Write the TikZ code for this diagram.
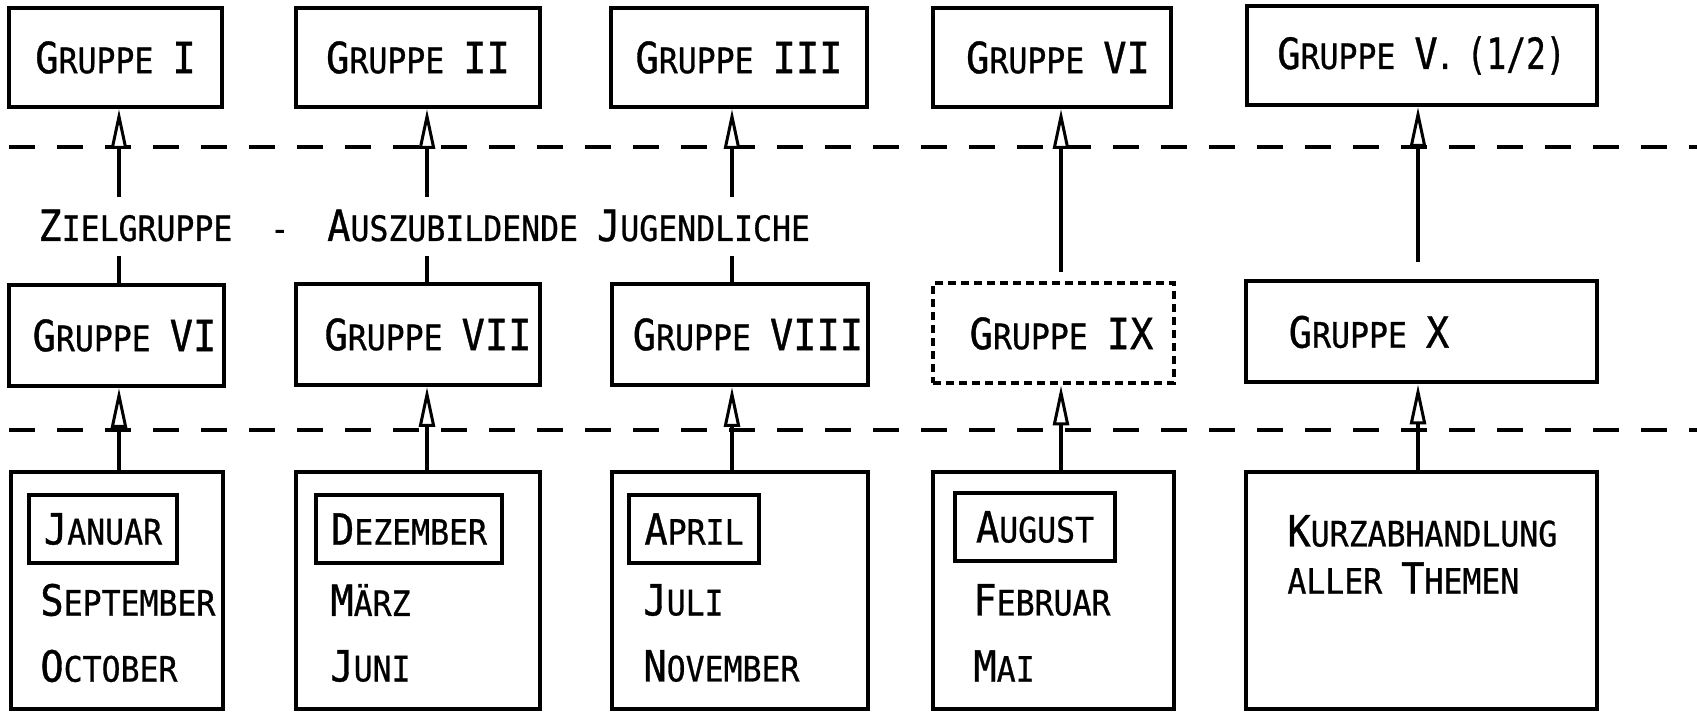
\documentclass[tikz,border=0pt]{standalone}
\usepackage{fontspec}
\newfontfamily\tw{DejaVu Sans Mono}[FakeStretch=0.9,FakeBold=0.8]
\usetikzlibrary{arrows.meta}
\newcommand\bg[1]{{\fontsize{21.5}{21.5}\selectfont #1}}
\newcommand\sm[1]{{\fontsize{17.5}{17.5}\selectfont #1}}
\begin{document}
\begin{tikzpicture}[x=0.5pt,y=-0.5pt,
  box/.style 2 args={draw, line width=2pt, inner sep=0pt,
    minimum width=#1*0.5pt, minimum height=#2*0.5pt,
    font=\tw\fontsize{17.5}{20}\selectfont},
  dotbox/.style={dash pattern=on 4pt off 2.5pt},
  txt/.style={inner sep=0pt, anchor=west, font=\tw\fontsize{17.5}{20}\selectfont},
  dashline/.style={line width=2pt, dash pattern=on 13pt off 11pt},
  conn/.style={line width=2pt},
  arr/.style={line width=2pt,
    -{Triangle[length=20pt,width=8pt,fill=white,line width=1.5pt]}}]
\useasboundingbox (0,0) rectangle (1697,715);

% dashed separators
\coordinate (d1l) at (9,147);  \coordinate (d1r) at (1697,147);
\coordinate (d2l) at (9,430);  \coordinate (d2r) at (1697,430);
\draw[dashline] (d1l) -- (d1r);
\draw[dashline] (d2l) -- (d2r);

% top row
\node[box={213}{99}]  (t1) at (115.5,57.5) {\bg{G}\sm{RUPPE} \bg{I}};
\node[box={244}{99}]  (t2) at (418,57.5)   {\bg{G}\sm{RUPPE} \bg{II}};
\node[box={256}{99}]  (t3) at (739,57.5)   {\bg{G}\sm{RUPPE} \bg{III}};
\node[box={238}{99}]  (t4) at (1052,57.5)  {\hspace{6pt}\bg{G}\sm{RUPPE} \bg{VI}};
\node[box={350}{99}]  (t5) at (1421.5,55.5)
  {\bg{G}\sm{RUPPE} \bg{V}\kern-1pt\sm{.}\kern6pt\scalebox{0.85}[1]{\bg{(1/2)}}};

% label
\node[txt, anchor=base west] (lab) at (38,241)
  {\bg{Z}\sm{IELGRUPPE}\ \ \sm{-}\ \ \bg{A}\sm{USZUBILDENDE} \bg{J}\sm{UGENDLICHE}};

% middle row
\node[box={215}{101}] (m1) at (116.5,335.5) {\hspace{8pt}\bg{G}\sm{RUPPE} \bg{VI}};
\node[box={244}{101}] (m2) at (418,334.5)   {\hspace{10pt}\bg{G}\sm{RUPPE} \bg{VII}};
\node[box={256}{101}] (m3) at (740,334.5)   {\hspace{8pt}\bg{G}\sm{RUPPE} \bg{VIII}};
\node[box={241}{100}, dotbox] (m4) at (1053.5,333.5) {\hspace{8pt}\bg{G}\sm{RUPPE} \bg{IX}};
\node[box={351}{101}] (m5) at (1421,332) {\bg{G}\sm{RUPPE} \bg{X}\hspace*{52pt}};

% bottom row
\node[box={212}{237}] (b1) at (117,590.5) {};
\node[box={244}{237}] (b2) at (418,590.5) {};
\node[box={256}{237}] (b3) at (740,590.5) {};
\node[box={241}{237}] (b4) at (1053.5,590.5) {};
\node[box={351}{237}] (b5) at (1421,590.5) {};

\node[box={148}{68}] (j1) at (103,529)  {\bg{J}\sm{ANUAR}};
\node[box={186}{68}] (j2) at (409,529)  {\bg{D}\sm{EZEMBER}};
\node[box={130}{68}] (j3) at (694,529)  {\bg{A}\sm{PRIL}};
\node[box={160}{68}] (j4) at (1035,527) {\bg{A}\sm{UGUST}};

\node[txt] (s1) at (40,600)  {\bg{S}\sm{EPTEMBER}};
\node[txt] (o1) at (40,666)  {\bg{O}\sm{CTOBER}};
\node[txt] (s2) at (330,600) {\bg{M}\sm{ÄRZ}};
\node[txt] (o2) at (330,666) {\bg{J}\sm{UNI}};
\node[txt] (s3) at (643,600) {\bg{J}\sm{ULI}};
\node[txt] (o3) at (643,666) {\bg{N}\sm{OVEMBER}};
\node[txt] (s4) at (973,600) {\bg{F}\sm{EBRUAR}};
\node[txt] (o4) at (973,666) {\bg{M}\sm{AI}};
\node[txt] (k5) at (1287,531) {\bg{K}\sm{URZABHANDLUNG}};
\node[txt] (a5) at (1287,578) {\sm{ALLER} \bg{T}\sm{HEMEN}};

% connectors: middle row -> top row
\coordinate (a1) at (119,197);  \coordinate (c1) at (119,256);
\coordinate (a2) at (427,197);  \coordinate (c2) at (427,256);
\coordinate (a3) at (732,197);  \coordinate (c3) at (732,256);
\coordinate (a4) at (1061,272);
\coordinate (a5) at (1418,262);
\draw[arr]  (a1) -- (a1 |- t1.south);
\draw[conn] (c1) -- (c1 |- m1.north);
\draw[arr]  (a2) -- (a2 |- t2.south);
\draw[conn] (c2) -- (c2 |- m2.north);
\draw[arr]  (a3) -- (a3 |- t3.south);
\draw[conn] (c3) -- (c3 |- m3.north);
\draw[arr]  (a4) -- (a4 |- t4.south);
\draw[arr]  (a5) -- (a5 |- t5.south);

% connectors: bottom row -> middle row
\draw[arr] (b1.north -| a1) -- (m1.south -| a1);
\draw[arr] (b2.north -| a2) -- (m2.south -| a2);
\draw[arr] (b3.north -| a3) -- (m3.south -| a3);
\draw[arr] (b4.north -| a4) -- (m4.south -| a4);
\draw[arr] (b5.north -| a5) -- (m5.south -| a5);
\end{tikzpicture}
\end{document}
